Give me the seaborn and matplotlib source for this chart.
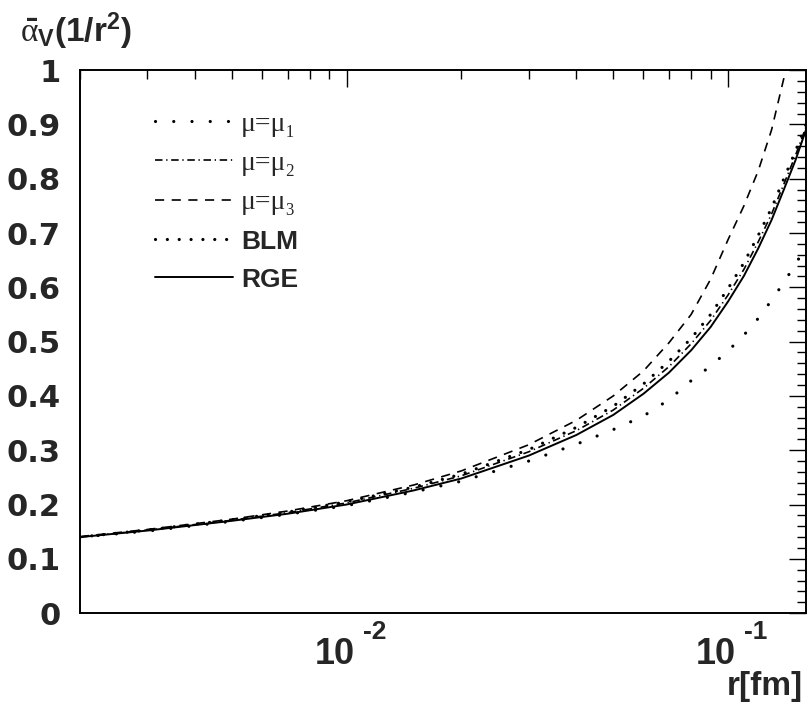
import numpy as np
import pandas as pd
import matplotlib
matplotlib.use("Agg")
import matplotlib.pyplot as plt
import matplotlib.ticker as mticker
import matplotlib.transforms as mtransforms
import seaborn as sns

# ---- data ----
r_fm = [0.002, 0.003, 0.005, 0.007, 0.01, 0.015, 0.02, 0.03, 0.04, 0.05,
        0.06, 0.07, 0.08, 0.09, 0.10, 0.11, 0.12, 0.13, 0.14, 0.15, 0.16]
alpha_mu1 = [0.140, 0.151, 0.169, 0.182, 0.198, 0.223, 0.243, 0.280, 0.311, 0.338,
             0.363, 0.393, 0.428, 0.455, 0.483, 0.512, 0.543, 0.576, 0.609, 0.642, 0.675]
alpha_mu2 = [0.140, 0.153, 0.171, 0.185, 0.203, 0.230, 0.253, 0.297, 0.336, 0.374,
             0.414, 0.454, 0.496, 0.539, 0.586, 0.633, 0.684, 0.735, 0.790, 0.842, 0.895]
alpha_mu3 = [0.141, 0.154, 0.173, 0.188, 0.207, 0.236, 0.262, 0.310, 0.355, 0.400,
             0.446, 0.498, 0.550, 0.615, 0.688, 0.750, 0.815, 0.890, 0.985, 1.110, 1.250]
alpha_blm = [0.140, 0.153, 0.172, 0.186, 0.205, 0.232, 0.256, 0.301, 0.342, 0.381,
             0.422, 0.464, 0.506, 0.550, 0.598, 0.645, 0.696, 0.746, 0.800, 0.850, 0.900]
alpha_rge = [0.140, 0.152, 0.170, 0.183, 0.200, 0.226, 0.248, 0.290, 0.328, 0.365,
             0.404, 0.443, 0.484, 0.527, 0.574, 0.621, 0.672, 0.724, 0.780, 0.833, 0.890]

series_labels = ["μ=μ₁", "μ=μ₂", "μ=μ₃", "BLM", "RGE"]
y_ticks = [0, 0.1, 0.2, 0.3, 0.4, 0.5, 0.6, 0.7, 0.8, 0.9, 1.0]
y_ticklabels = ["0", "0.1", "0.2", "0.3", "0.4", "0.5", "0.6", "0.7", "0.8", "0.9", "1"]
x_ticks = [0.01, 0.1]
x_ticklabels = ["10", "10"]
x_tick_exponents = ["-2", "-1"]

sns.set_style("white")
plt.rcParams["font.family"] = ["Liberation Sans", "DejaVu Sans"]
plt.rcParams["mathtext.fontset"] = "custom"
plt.rcParams["mathtext.rm"] = "Liberation Sans:bold"
plt.rcParams["mathtext.bf"] = "Liberation Sans:bold"
plt.rcParams["mathtext.it"] = "Liberation Serif"

fig = plt.figure(figsize=(8.08, 7.08), dpi=100)
ax = fig.add_axes([0.099, 0.134, 0.8985, 0.767])

cols = [alpha_mu1, alpha_mu2, alpha_mu3, alpha_blm, alpha_rge]
styles = [
    dict(lw=2.3, dashes=(0.01, 5.7), cap="round"),
    dict(lw=1.2, dashes=(4.5, 2.2, 0.8, 2.2), cap=None),
    dict(lw=1.2, dashes=(5.5, 4.5), cap=None),
    dict(lw=2.3, dashes=(0.01, 3.7), cap="round"),
    dict(lw=1.4, dashes=None, cap=None),
]
for lab, vals, st in zip(series_labels, cols, styles):
    d = pd.DataFrame({"r": r_fm, "a": vals})
    sns.lineplot(data=d, x="r", y="a", ax=ax, color="black", label=lab,
                 sort=True, lw=st["lw"])
    l = ax.lines[-1]
    if st["dashes"] is not None:
        l.set_dashes(st["dashes"])
    if st["cap"]:
        l.set_dash_capstyle(st["cap"])

ax.set_xscale("log")
ax.set_xlim(0.002, 0.16)
ax.set_ylim(0, 1)
ax.set_xlabel("")
ax.set_ylabel("")

ax.set_yticks(y_ticks)
ax.set_yticklabels(y_ticklabels)
ax.yaxis.set_minor_locator(mticker.MultipleLocator(0.02))
ax.set_xticks(x_ticks)
ax.set_xticklabels(x_ticklabels, ha="right")
ax.xaxis.set_minor_locator(mticker.LogLocator(base=10, subs=np.arange(2, 10), numticks=20))
ax.xaxis.set_minor_formatter(mticker.NullFormatter())

ax.tick_params(which="both", direction="in", top=True, right=True, color="black")
ax.tick_params(which="major", length=12, width=1.0)
ax.tick_params(which="minor", length=6.5, width=1.0)
ax.tick_params(axis="y", which="major", labelsize=22, pad=14)
ax.tick_params(axis="x", which="major", labelsize=26, pad=17)
for t in ax.get_yticklabels():
    t.set_fontweight("bold")
    t.set_fontfamily(["DejaVu Sans"])
shift = mtransforms.ScaledTranslation(0.08, 0, fig.dpi_scale_trans)
for tick in ax.xaxis.get_major_ticks():
    tick.label1.set_fontweight("bold")
    tick.label1.set_horizontalalignment("right")
    tick.label1.set_transform(tick.label1.get_transform() + shift)
for s in ax.spines.values():
    s.set_linewidth(1.4)
    s.set_color("black")

# exponents of the x tick labels (ROOT style, set high above the "10")
blend = mtransforms.blended_transform_factory(ax.transData, ax.transAxes)
for v, e in zip(x_ticks, x_tick_exponents):
    ax.text(v, 0, e, fontsize=19, fontweight="bold", ha="left", va="top",
            transform=blend + mtransforms.ScaledTranslation(0.16, -0.07, fig.dpi_scale_trans),
            clip_on=False)

leg = ax.legend(loc="upper left", bbox_to_anchor=(0.103, 0.924), frameon=False,
                handlelength=2.8, handletextpad=0.3, labelspacing=0.5,
                fontsize=20, borderpad=0, borderaxespad=0)
for i, t in enumerate(leg.get_texts()):
    if i < 3:
        t.set_fontfamily(["Liberation Serif", "DejaVu Serif"])
        t.set_fontweight("normal")
        t.set_fontsize(20)
    else:
        t.set_fontweight("bold")
        t.set_fontsize(19)

fig.text(0.025, 0.941, r"$\bar{\alpha}_{\mathrm{V}}\mathrm{(1/r^2)}$", fontsize=24,
         ha="left", va="baseline")
fig.text(0.994, 0.0184, "r[fm]", fontsize=24, fontweight="bold", ha="right", va="baseline")

fig.savefig("out.png", dpi=100)
